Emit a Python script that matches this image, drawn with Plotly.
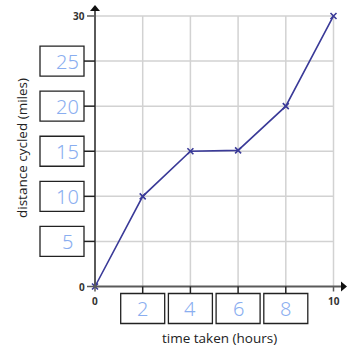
import plotly.graph_objects as go

# ---- data ----
time_hours = [0, 2, 4, 6, 8, 10]
distance_miles = [0, 10, 15, 15.1, 20, 30]
x_box_ticks = [2, 4, 6, 8]
y_box_ticks = [5, 10, 15, 20, 25]
x_end_ticks = [0, 10]
y_end_ticks = [0, 30]
x_grid = [2, 4, 6, 8, 10]
y_grid = [5, 10, 15, 20, 25, 30]
x_title = "time taken (hours)"
y_title = "distance cycled (miles)"

# ---- geometry (pixel scale helpers) ----
W, H = 349, 348
X0PX, XPER = 95.0, 23.85      # pixel of x=0, pixels per hour
Y0PX, YPER = 286.5, 9.017     # pixel of y=0, pixels per mile


def dx(p):
    return p / XPER


def dy(p):
    return p / YPER


xr = [-X0PX / XPER, (W - X0PX) / XPER]
yr = [-(H - Y0PX) / YPER, Y0PX / YPER]

XMAX, YMAX = 10, 30
AXIS_C = "#5a5a5a"
GRID_C = "#d2d2d2"
LINE_C = "#3a3a98"
HAND_C = "#8aaef0"

shapes = []
# gridlines
for gx in x_grid:
    shapes.append(dict(type="line", x0=gx, x1=gx, y0=0, y1=YMAX,
                       line=dict(color=GRID_C, width=1.5), layer="below"))
for gy in y_grid:
    shapes.append(dict(type="line", x0=0, x1=XMAX, y0=gy, y1=gy,
                       line=dict(color=GRID_C, width=1.5), layer="below"))

# axes lines
ytip = dy(Y0PX - 5)
xtip = dx(347 - X0PX)
shapes.append(dict(type="line", x0=0, x1=0, y0=0, y1=ytip - dy(4),
                   line=dict(color=AXIS_C, width=2)))
shapes.append(dict(type="line", x0=0, x1=xtip - dx(4), y0=0, y1=0,
                   line=dict(color=AXIS_C, width=2)))
# arrowheads
shapes.append(dict(type="path",
                   path=f"M 0 {ytip} L {-dx(5)} {ytip - dy(6)} L {dx(5)} {ytip - dy(6)} Z",
                   fillcolor="#111", line=dict(width=0)))
shapes.append(dict(type="path",
                   path=f"M {xtip} 0 L {xtip - dx(6)} {dy(5)} L {xtip - dx(6)} {-dy(5)} Z",
                   fillcolor="#111", line=dict(width=0)))

# end ticks
for ty in y_end_ticks:
    shapes.append(dict(type="line", x0=-dx(8), x1=0, y0=ty, y1=ty,
                       line=dict(color=AXIS_C, width=1.5)))
for tx in x_end_ticks:
    shapes.append(dict(type="line", x0=tx, x1=tx, y0=0, y1=-dy(5),
                       line=dict(color=AXIS_C, width=1.5)))

# box ticks and boxes
for ty in y_box_ticks:
    shapes.append(dict(type="line", x0=-dx(11), x1=0, y0=ty, y1=ty,
                       line=dict(color="#222", width=1.5)))
    shapes.append(dict(type="rect", x0=-dx(55), x1=-dx(11),
                       y0=ty - dy(15), y1=ty + dy(15),
                       line=dict(color="#222", width=1.3), fillcolor="white"))
for tx in x_box_ticks:
    shapes.append(dict(type="line", x0=tx, x1=tx, y0=0, y1=-dy(7),
                       line=dict(color="#222", width=1.5)))
    shapes.append(dict(type="rect", x0=tx - dx(22), x1=tx + dx(22),
                       y0=-dy(37), y1=-dy(7),
                       line=dict(color="#222", width=1.3), fillcolor="white"))

annotations = []
hand_font = dict(family="Noto Sans", size=20, color=HAND_C, weight=300)
for ty in y_box_ticks:
    annotations.append(dict(x=-dx(28), y=ty, text=str(ty), showarrow=False,
                            xanchor="center", yanchor="middle", font=hand_font))
for tx in x_box_ticks:
    annotations.append(dict(x=tx, y=-dy(22), text=str(tx), showarrow=False,
                            xanchor="center", yanchor="middle", font=hand_font))

lab_font = dict(family="Open Sans", size=10, color="#333", weight=700)
for ty in y_end_ticks:
    annotations.append(dict(x=-dx(8.5), y=ty, text=str(ty), showarrow=False,
                            xanchor="right", yanchor="middle", font=lab_font))
for tx in x_end_ticks:
    annotations.append(dict(x=tx, y=-dy(5), text=str(tx), showarrow=False,
                            xanchor="center", yanchor="top", font=lab_font))

title_font = dict(family="Open Sans", size=13.5, color="#222")
annotations.append(dict(x=dx(219 - X0PX), y=-dy(337.5 - Y0PX), text=x_title,
                        showarrow=False, xanchor="center", yanchor="middle",
                        font=title_font))
annotations.append(dict(x=-dx(X0PX - 22), y=dy(Y0PX - 148), text=y_title,
                        showarrow=False, xanchor="center", yanchor="middle",
                        textangle=-90, font=title_font))

fig = go.Figure()
fig.add_trace(go.Scatter(
    x=time_hours, y=distance_miles, mode="lines+markers",
    line=dict(color=LINE_C, width=1.6),
    marker=dict(symbol="x-thin", size=6, line=dict(color=LINE_C, width=1.6)),
    hoverinfo="skip", showlegend=False, cliponaxis=False,
))

fig.update_layout(
    width=W, height=H, autosize=False,
    margin=dict(l=0, r=0, t=0, b=0),
    paper_bgcolor="white", plot_bgcolor="white",
    xaxis=dict(range=xr, visible=False, fixedrange=True),
    yaxis=dict(range=yr, visible=False, fixedrange=True),
    shapes=shapes, annotations=annotations,
    hovermode=False,
)

fig.write_html("out.html", config={"displayModeBar": False},
               post_script="document.body.style.margin='0px';document.body.style.overflow='hidden';")
